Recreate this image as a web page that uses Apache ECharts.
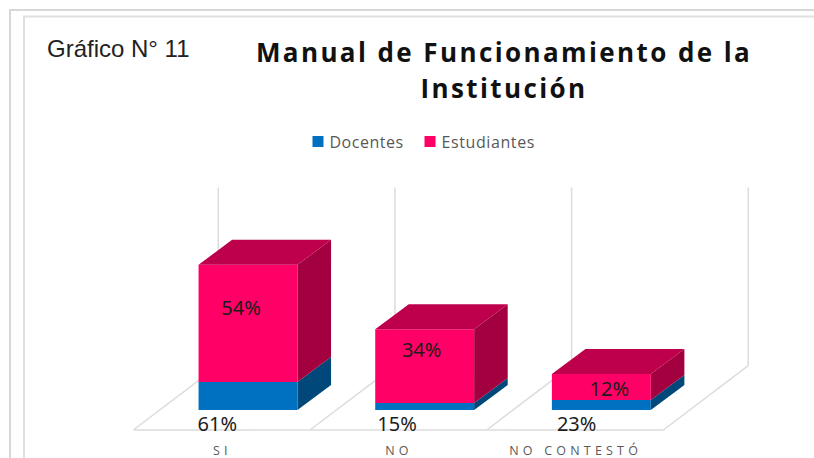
<!DOCTYPE html>
<html><head><meta charset="utf-8">
<style>html,body{margin:0;padding:0;background:#fff}#c{width:814px;height:458px}</style>
<script src="https://cdn.jsdelivr.net/npm/echarts@6/dist/echarts.min.js"></script>
</head><body><div id="c"></div>
<script>
const categories = ['SI', 'NO', 'NO CONTESTÓ'];
const docentesHeights = [12.9, 3.2, 4.6];
const estudiantesValues = [54, 34, 12];
const docentesLabels = ['61%', '15%', '23%'];
const estudiantesLabels = ['54%', '34%', '12%'];
const seriesNames = ['Docentes', 'Estudiantes'];
const wallTop = 82;

// label nudges from the centre of each segment, pixels
const docNudge = [[-5, 0], [-2, 0], [1, 0]];
const estNudge = [[-7, -16], [-3, -17], [8, 2]];

const BLUE = ['#0070C0', '#00477A'], PINK = ['#FF0066', '#A3003F'], PINK_TOP = '#BE004C';
const FLOOR_X = 0.477, FLOOR_Y = 0.362, NEAR = 0.64 / 2.1 , BAR_W = 0.56;

function renderFloor(params, api) {
  const i = api.value(0), band = api.size([1, 0])[0];
  const p0 = api.coord([i, 0]), pT = api.coord([i, api.value(1)]);
  const edges = [p0[0] - band / 2];
  if (i === categories.length - 1) edges.push(p0[0] + band / 2);
  const style = { stroke: '#DCDCDC', lineWidth: 1.5, fill: 'none' };
  const children = [];
  edges.forEach(x => {
    const bx = x + FLOOR_X * band, by = p0[1] - FLOOR_Y * band;
    children.push({ type: 'line', shape: { x1: x, y1: p0[1], x2: bx, y2: by }, style });
    children.push({ type: 'line', shape: { x1: bx, y1: by, x2: bx, y2: pT[1] - FLOOR_Y * band }, style });
  });
  return { type: 'group', silent: true, children };
}

function barRenderer(colors, topColor) {
  return function (params, api) {
    const i = api.value(0), band = api.size([1, 0])[0];
    const a = api.coord([i, api.value(1)]), b = api.coord([i, api.value(2)]);
    const offX = FLOOR_X * band * NEAR, offY = FLOOR_Y * band * NEAR;
    const w = BAR_W * band, dx = 0.19 * band, dy = 0.1415 * band;
    const x0 = a[0] + offX - w / 2, x1 = x0 + w, y0 = a[1] - offY, y1 = b[1] - offY;
    const poly = (points, fill) => ({ type: 'polygon', shape: { points }, style: { fill } });
    const children = [
      poly([[x1, y0], [x1 + dx, y0 - dy], [x1 + dx, y1 - dy], [x1, y1]], colors[1]),
      { type: 'rect', shape: { x: x0, y: y1, width: w, height: y0 - y1 }, style: { fill: colors[0] } }
    ];
    if (topColor) children.push(poly([[x0, y1], [x1, y1], [x1 + dx, y1 - dy], [x0 + dx, y1 - dy]], topColor));
    return { type: 'group', children };
  };
}

function renderLabel(labels, nudges, onFloor) {
  return function (params, api) {
    const i = api.value(0), band = api.size([1, 0])[0];
    const a = api.coord([i, api.value(1)]), b = api.coord([i, api.value(2)]);
    const offX = onFloor ? 0 : FLOOR_X * band * NEAR;
    const y = onFloor ? a[1] - 6 : (a[1] + b[1]) / 2 - FLOOR_Y * band * NEAR;
    return {
      type: 'text',
      style: {
        x: a[0] + offX + nudges[i][0], y: y + nudges[i][1], text: labels[i],
        fill: '#1C1C1C', font: '20px "Noto Sans"', align: 'center', verticalAlign: 'middle'
      }
    };
  };
}

const floorData = categories.map((c, i) => [i, wallTop]);
const docData = categories.map((c, i) => [i, 0, docentesHeights[i]]);
const estData = categories.map((c, i) => [i, docentesHeights[i], docentesHeights[i] + estudiantesValues[i]]);

const chart = echarts.init(document.getElementById('c'), null, { renderer: 'svg', width: 814, height: 458 });
chart.setOption({
  animation: false,
  backgroundColor: '#fff',
  title: [
    { text: 'Manual de Funcionamiento de la\nInstitución', left: 499, top: 29, textAlign: 'center',
      textStyle: { fontFamily: '"Open Sans"', fontWeight: 'bold', fontSize: 26, lineHeight: 36, color: '#111' } },
    { text: 'Gráfico N° 11', left: 42, top: 31,
      textStyle: { fontFamily: '"Liberation Sans"', fontWeight: 'normal', fontSize: 24, color: '#222' } }
  ],
  legend: {
    data: seriesNames.map(n => ({ name: n, icon: 'rect' })),
    left: 307.5, top: 128.5, itemWidth: 11, itemHeight: 11, itemGap: 25, selectedMode: false,
    textStyle: { fontFamily: '"Open Sans"', fontSize: 16, color: '#595959', padding: [0, 0, 0, 1] }
  },
  grid: { left: 134, right: 150, bottom: 28.5, height: 178 },
  xAxis: {
    type: 'category', data: categories,
    axisLine: { lineStyle: { color: '#DCDCDC', width: 1.5 } }, axisTick: { show: false },
    axisLabel: { margin: 14, fontFamily: '"Open Sans"', fontSize: 12.5, lineHeight: 13, color: '#595959', interval: 0 }
  },
  yAxis: { type: 'value', min: 0, max: wallTop, show: false, splitLine: { show: false } },
  series: [
    { type: 'custom', name: 'floor', data: floorData, renderItem: renderFloor, silent: true, encode: { x: 0, y: 1 }, z: 1 },
    { type: 'custom', name: seriesNames[0], data: docData, renderItem: barRenderer(BLUE), encode: { x: 0, y: [1, 2] }, itemStyle: { color: BLUE[0] }, z: 2 },
    { type: 'custom', name: seriesNames[1], data: estData, renderItem: barRenderer(PINK, PINK_TOP), encode: { x: 0, y: [1, 2] }, itemStyle: { color: PINK[0] }, z: 3 },
    { type: 'custom', name: 'docLabels', data: docData, renderItem: renderLabel(docentesLabels, docNudge, true), encode: { x: 0, y: [1, 2] }, silent: true, z: 4 },
    { type: 'custom', name: 'estLabels', data: estData, renderItem: renderLabel(estudiantesLabels, estNudge, false), encode: { x: 0, y: [1, 2] }, silent: true, z: 4 }
  ],
  graphic: [
    { type: 'polyline', silent: true, shape: { points: [[10, 458], [10, 10], [814, 10]] }, style: { stroke: '#D8D8D8', lineWidth: 2, fill: 'none' } },
    { type: 'polyline', silent: true, shape: { points: [[24, 458], [24, 16.5], [814, 16.5]] }, style: { stroke: '#E0E0E0', lineWidth: 2, fill: 'none' } }
  ]
});

const spacing = { 'Manual de Funcionamiento de la': 2.4, 'Institución': 2.4, 'Docentes': 0.5, 'Estudiantes': 0.6,
  'SI': 4.2, 'NO': 4.2, 'NO CONTESTÓ': 4.2 };
document.querySelectorAll('#c text').forEach(t => {
  const s = spacing[t.textContent.trim()];
  if (s) t.style.letterSpacing = s + 'px';
});
</script></body></html>
